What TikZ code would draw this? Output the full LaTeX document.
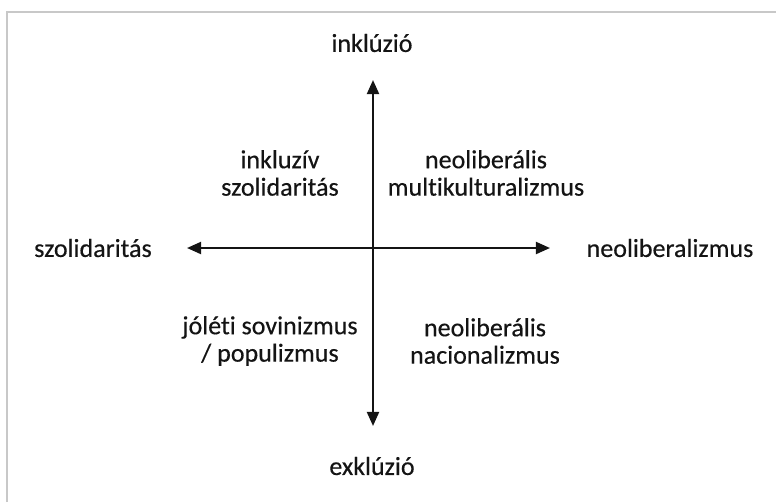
\documentclass[tikz,border=0pt]{standalone}
\usepackage{fontspec}
\setmainfont{Carlito}[Ligatures={NoCommon}, FakeBold=0.4, AutoFakeBold=0.4]
\usepackage{tikz}
\usetikzlibrary{arrows.meta, positioning}
\definecolor{axisgray}{HTML}{141414}
\definecolor{framegray}{HTML}{C8C8C8}

\begin{document}
\begin{tikzpicture}[
  x=0.025cm, y=-0.025cm,
  every node/.style={text=axisgray, font=\fontsize{18.5}{19.5}\selectfont\bfseries, align=center, inner sep=0pt},
  axis/.style={draw=axisgray, line width=1.6pt, -{Triangle[length=10pt, width=8.5pt]}}
]
  \useasboundingbox (0,0) rectangle (776,502);
  \draw[framegray, line width=1pt] (7,502) -- (7,12) -- (776,12);

  % axes
  \coordinate (origin) at (373,248);
  \coordinate (up) at (373,80);
  \coordinate (down) at (373,426);
  \coordinate (west) at (187,248);
  \coordinate (east) at (550,248);
  \draw[axis] (origin) -- (up);
  \draw[axis] (origin) -- (down);
  \draw[axis] (origin) -- (west);
  \draw[axis] (origin) -- (east);

  % axis labels
  \node (incl) at (372,43) {inklúzió};
  \node (excl) at (372,466) {exklúzió};
  \node (solid) at (93,248) {szolidaritás};
  \node (neolib) at (670,248) {neoliberalizmus};

  % quadrants
  \node (q1) at (280,173) {inkluzív\\szolidaritás};
  \node (q2) at (486,173) {neoliberális\\multikulturalizmus};
  \node (q3) at (270,341) {jóléti sovinizmus\\/ populizmus};
  \node (q4) at (485,341) {neoliberális\\nacionalizmus};
\end{tikzpicture}
\end{document}
